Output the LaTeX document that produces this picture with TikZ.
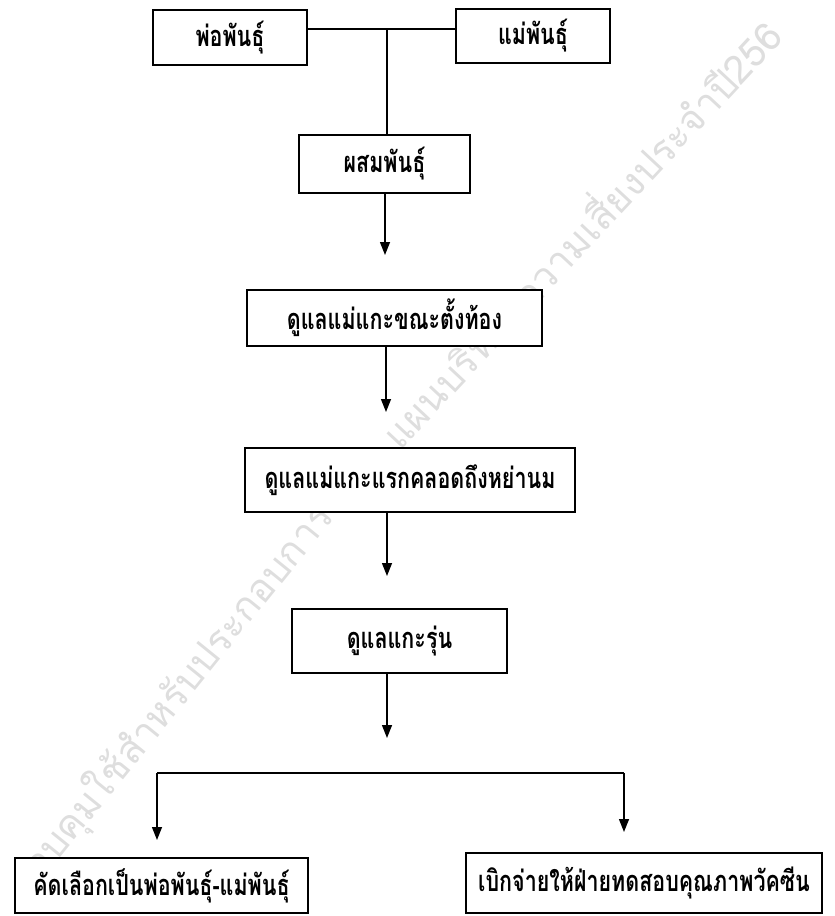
\documentclass[tikz,border=0pt]{standalone}
\usepackage{fontspec}
\usetikzlibrary{arrows.meta}
% Thai faces: a narrowed bold face for the boxes, a plain one for the watermark
\newfontfamily\thaifont[Script=Thai, FakeStretch=0.74]{Loma}
\newfontfamily\wmfont[Script=Thai]{Loma}

\tikzset{
  stepbox/.style n args={2}{draw=black, line width=1.6pt, fill=white,
    minimum width=#1pt, minimum height=#2pt, inner sep=0pt,
    font=\thaifont\bfseries\fontsize{29}{33}\selectfont},
  link/.style={draw=black, line width=1.4pt},
  arr/.style={link, -{Triangle[width=10pt,length=13pt]}},
  wm/.style={text=gray!26, font=\wmfont\fontsize{39}{43}\selectfont, inner sep=0pt},
}

\begin{document}
\begin{tikzpicture}[x=1pt,y=1pt]
\useasboundingbox (0,0) rectangle (835,-916);

% faint diagonal watermark behind the chart
\begin{scope}
  \clip (0,0) rectangle (835,-916);
  \node[wm, rotate=51, anchor=base west] (wma) at (26,-900) {ควบคุมใช้สำหรับประกอบการ};
  \node[wm, rotate=47, anchor=base west] (wmb) at (400,-452) {แผนบริหารความเสี่ยงประจำปี256};
\end{scope}

% boxes
\node[stepbox={154}{55}] (father)  at (230,-37.5) {พ่อพันธุ์};
\node[stepbox={154}{54}] (mother)  at (533,-36)   {แม่พันธุ์};
\node[stepbox={171}{58}] (cross)   at (384.5,-164) {ผสมพันธุ์};
\node[stepbox={295}{56}] (preg)    at (394.5,-318) {ดูแลแม่แกะขณะตั้งท้อง};
\node[stepbox={330}{64}] (birth)   at (410,-480)  {ดูแลแม่แกะแรกคลอดถึงหย่านม};
\node[stepbox={215}{64}] (young)   at (399.5,-641) {ดูแลแกะรุ่น};
\node[stepbox={293}{55}] (select)  at (161.5,-885.5) {คัดเลือกเป็นพ่อพันธุ์-แม่พันธุ์};
\node[stepbox={356}{60}] (vaccine) at (644,-883)  {เบิกจ่ายให้ฝ่ายทดสอบคุณภาพวัคซีน};

% junction of the two parents
\coordinate (join) at (387,-29);
\draw[link] (father.east |- join) -- (mother.west |- join);
\draw[link] (join) -- (join |- cross.north);

% arrow tips that stop short of the next box
\coordinate (t1) at (385,-255);
\coordinate (t2) at (386,-412);
\coordinate (t3) at (387,-576);
\coordinate (t4) at (387,-738);
\draw[arr] (t1 |- cross.south) -- (t1);
\draw[arr] (t2 |- preg.south)  -- (t2);
\draw[arr] (t3 |- birth.south) -- (t3);
\draw[arr] (t4 |- young.south) -- (t4);

% the final split into two branches
\coordinate (bl) at (157,-773);
\coordinate (br) at (624,-773);
\coordinate (tl) at (157,-840);
\coordinate (tr) at (624,-832);
\draw[link] (bl) -- (br);
\draw[arr] (bl) -- (tl);
\draw[arr] (br) -- (tr);
\end{tikzpicture}
\end{document}
